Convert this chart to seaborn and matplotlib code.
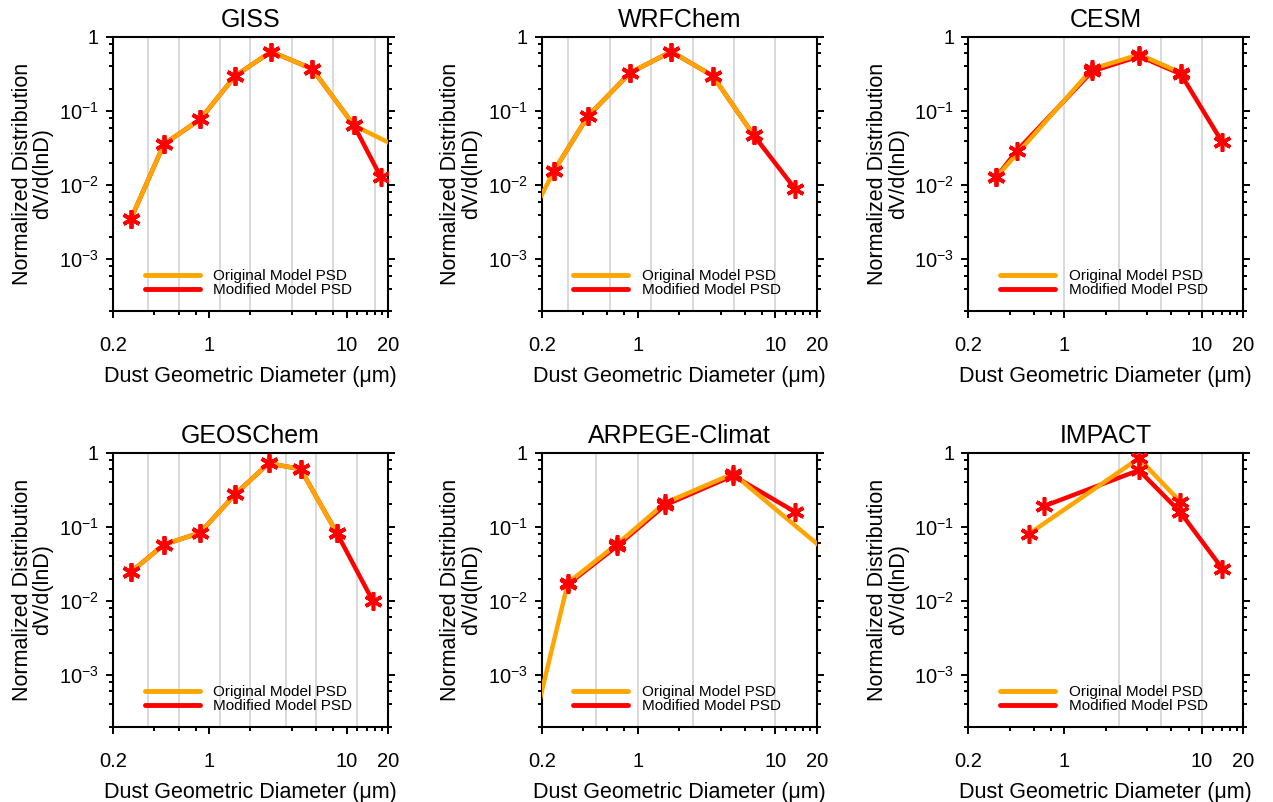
import numpy as np
import pandas as pd
import matplotlib
matplotlib.use("Agg")
import matplotlib.pyplot as plt
from matplotlib.ticker import FixedLocator, FixedFormatter, NullFormatter
from matplotlib.lines import Line2D
import seaborn as sns

sns.set_style("ticks")
plt.rcParams["font.family"] = ["Liberation Sans", "DejaVu Sans"]
plt.rcParams["mathtext.fontset"] = "custom"
plt.rcParams["mathtext.rm"] = "Liberation Sans"
plt.rcParams["mathtext.default"] = "regular"
plt.rcParams["text.color"] = "black"
plt.rcParams["axes.labelcolor"] = "black"

# ---------------- data ----------------
titles = ["GISS", "WRFChem", "CESM", "GEOSChem", "ARPEGE-Climat", "IMPACT"]

giss_orig_d = [0.27, 0.47, 0.86, 1.55, 2.83, 5.63, 11.3, 22.6]
giss_orig_v = [0.0035, 0.036, 0.077, 0.30, 0.635, 0.37, 0.064, 0.034]
giss_mod_d = [0.27, 0.47, 0.86, 1.55, 2.83, 5.63, 11.3, 17.8]
giss_mod_v = [0.0035, 0.036, 0.077, 0.30, 0.635, 0.37, 0.064, 0.0127]
giss_edges = [0.36, 0.6, 1.2, 2, 4, 8, 16]

wrf_orig_d = [0.17, 0.246, 0.433, 0.881, 1.75, 3.5, 6.97]
wrf_orig_v = [0.0041, 0.0156, 0.085, 0.33, 0.635, 0.30, 0.047]
wrf_mod_d = [0.246, 0.433, 0.881, 1.75, 3.5, 6.97, 14.0]
wrf_mod_v = [0.0156, 0.085, 0.33, 0.635, 0.30, 0.047, 0.0088]
wrf_edges = [0.3125, 0.625, 1.25, 2.5, 5, 10]

cesm_orig_d = [0.318, 1.595, 3.51, 7.02]
cesm_orig_v = [0.0127, 0.372, 0.58, 0.33]
cesm_mod_d = [0.318, 0.45, 1.595, 3.51, 7.02, 14.06]
cesm_mod_v = [0.0127, 0.029, 0.345, 0.55, 0.316, 0.038]
cesm_edges = [1, 2.5, 5, 10]

geos_orig_d = [0.27, 0.47, 0.86, 1.55, 2.71, 4.63, 8.47]
geos_orig_v = [0.0245, 0.0576, 0.083, 0.276, 0.72, 0.60, 0.083]
geos_mod_d = [0.27, 0.47, 0.86, 1.55, 2.71, 4.63, 8.47, 15.5]
geos_mod_v = [0.0245, 0.0576, 0.083, 0.276, 0.72, 0.60, 0.083, 0.010]
geos_edges = [0.36, 0.6, 1.2, 2, 3.6, 6, 12]

arp_orig_d = [0.17, 0.31, 0.704, 1.58, 4.93, 25.0]
arp_orig_v = [0.00017, 0.0175, 0.058, 0.21, 0.52, 0.042]
arp_mod_d = [0.31, 0.704, 1.58, 4.93, 13.9]
arp_mod_v = [0.0167, 0.0546, 0.196, 0.49, 0.159]
arp_edges = [0.5, 1, 2.5, 10]

imp_orig_d = [0.556, 3.48, 6.93]
imp_orig_v = [0.081, 0.84, 0.219]
imp_mod_d = [0.711, 3.48, 6.93, 14.06]
imp_mod_v = [0.19, 0.58, 0.159, 0.0273]
imp_edges = [2.5, 5, 10]

x_ticks = [0.2, 1, 10, 20]
x_ticklabels = ["0.2", "1", "10", "20"]
y_ticks = [1e-3, 1e-2, 1e-1, 1]
y_ticklabels = ["$10^{-3}$", "$10^{-2}$", "$10^{-1}$", "1"]

panels = [
    (giss_orig_d, giss_orig_v, giss_mod_d, giss_mod_v, giss_edges),
    (wrf_orig_d, wrf_orig_v, wrf_mod_d, wrf_mod_v, wrf_edges),
    (cesm_orig_d, cesm_orig_v, cesm_mod_d, cesm_mod_v, cesm_edges),
    (geos_orig_d, geos_orig_v, geos_mod_d, geos_mod_v, geos_edges),
    (arp_orig_d, arp_orig_v, arp_mod_d, arp_mod_v, arp_edges),
    (imp_orig_d, imp_orig_v, imp_mod_d, imp_mod_v, imp_edges),
]

XMIN, XMAX = 0.2, 20
YMIN, YMAX = 2e-4, 1
ORANGE = "#ffa500"
RED = "#ff0000"

fig = plt.figure(figsize=(12.73, 8.02), dpi=100)
W, H = 1273, 802
lefts = [113, 541.7, 968.3]
tops = [37, 452.7]
aw, ah = 275, 274

minor_x = [0.4, 0.6, 0.8, 2, 4, 6, 8, 12, 14, 16, 18]
minor_y = [m * 10.0 ** e for e in range(-4, 0) for m in (2, 4, 6, 8)]

for i, (title, (od, ov, md, mv, edges)) in enumerate(zip(titles, panels)):
    r, c = divmod(i, 3)
    ax = fig.add_axes([lefts[c] / W, 1 - (tops[r] + ah) / H, aw / W, ah / H])
    ax.set_xscale("log")
    ax.set_yscale("log")
    for e in edges:
        ax.axvline(e, color="#d3d3d3", lw=1.2, zorder=0)
    df_o = pd.DataFrame({"d": od, "v": ov})
    df_m = pd.DataFrame({"d": md, "v": mv})
    sns.lineplot(data=df_m, x="d", y="v", ax=ax, color=RED, lw=3.2,
                 estimator=None, sort=False, zorder=2)
    sns.lineplot(data=df_o, x="d", y="v", ax=ax, color=ORANGE, lw=3.2,
                 estimator=None, sort=False, zorder=3)
    for df in (df_o, df_m):
        dd = df[(df.d > XMIN) & (df.d < XMAX)]
        sns.lineplot(data=dd, x="d", y="v", ax=ax, color=RED, linestyle="",
                     marker=(6, 2, 0), markersize=13, markeredgewidth=2.6,
                     markeredgecolor=RED, estimator=None, sort=False, zorder=5)
    ax.set_xlim(XMIN, XMAX)
    ax.set_ylim(YMIN, YMAX)
    ax.xaxis.set_major_locator(FixedLocator(x_ticks))
    ax.xaxis.set_major_formatter(FixedFormatter(x_ticklabels))
    ax.xaxis.set_minor_locator(FixedLocator(minor_x))
    ax.xaxis.set_minor_formatter(NullFormatter())
    ax.yaxis.set_major_locator(FixedLocator(y_ticks))
    ax.yaxis.set_major_formatter(FixedFormatter(y_ticklabels))
    ax.yaxis.set_minor_locator(FixedLocator(minor_y))
    ax.yaxis.set_minor_formatter(NullFormatter())
    ax.tick_params(which="both", direction="out", top=False, right=True,
                   width=1.4, labelsize=14.5, colors="black")
    ax.tick_params(which="major", length=5)
    ax.tick_params(axis="x", which="major", pad=13)
    ax.tick_params(axis="y", which="major", pad=5)
    ax.tick_params(which="minor", length=3)
    for s in ax.spines.values():
        s.set_linewidth(1.5)
        s.set_color("black")
    ax.set_title(title, fontsize=18, pad=7)
    ax.set_xlabel("Dust Geometric Diameter (\u03bcm)", fontsize=15.5, labelpad=8)
    ax.set_ylabel("Normalized Distribution\ndV/d(lnD)", fontsize=15.5,
                  labelpad=4, linespacing=1.0)
    handles = [Line2D([], [], color=ORANGE, lw=3.5),
               Line2D([], [], color=RED, lw=3.5)]
    ax.legend(handles, ["Original Model PSD", "Modified Model PSD"],
              loc="lower left", bbox_to_anchor=(0.115, 0.05), frameon=False,
              fontsize=11, handlelength=3.6, handletextpad=0.9,
              labelspacing=0.0, borderpad=0, borderaxespad=0)

fig.savefig("out.png", dpi=100)
